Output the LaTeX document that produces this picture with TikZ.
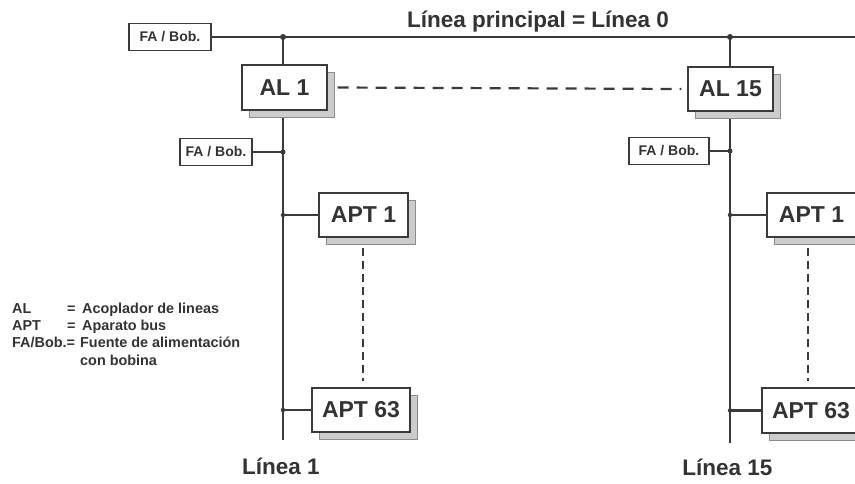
\documentclass[tikz,border=0pt]{standalone}
\usepackage{fontspec}
\setmainfont{Liberation Sans}
\usetikzlibrary{shadows,backgrounds}
\definecolor{ink}{HTML}{333333}
\definecolor{wirec}{HTML}{3A3A3A}
\begin{document}
\begin{tikzpicture}[x=1pt,y=-1pt,
  box/.style={draw=wirec,line width=1.4pt,fill=white,inner sep=0pt,text=ink,
    font=\bfseries\fontsize{23}{26}\selectfont,
    copy shadow={shadow xshift=7pt,shadow yshift=-7pt,fill=black!20,draw=black!45,line width=0.9pt}},
  fabox/.style={draw=wirec,line width=1.3pt,fill=white,inner sep=0pt,text=ink,
    font=\bfseries\fontsize{14}{16}\selectfont,minimum height=27pt},
  wire/.style={draw=wirec,line width=2.2pt},
  dashh/.style={draw=wirec,line width=2.2pt,dash pattern=on 11pt off 8pt},
  dashv/.style={draw=wirec,line width=2.4pt,dash pattern=on 8pt off 5pt},
  dot/.style={circle,fill=wirec,inner sep=0pt,minimum size=6pt},
  big/.style={text=ink,font=\bfseries\fontsize{22.5}{26}\selectfont,anchor=base,inner sep=0pt},
  leg/.style={text=ink,font=\bfseries\fontsize{14.4}{17}\selectfont,anchor=base west,inner sep=0pt}
]
\useasboundingbox (0,0) rectangle (855,483);
\clip (0,0) rectangle (855,483);

% coordinates
\coordinate (j1) at (283,37);
\coordinate (j2) at (730,37);
\coordinate (mainend) at (856,37);
\coordinate (l1end) at (283,440);
\coordinate (l15end) at (730,443);
\coordinate (dvl) at (363,0);
\coordinate (dvr) at (808,0);

% title
\node[big] (title) at (538,27) {Línea principal = Línea 0};

% power supplies
\node[fabox,minimum width=82pt] (fa0) at (170,37) {FA / Bob.};
\node[fabox,minimum width=72pt] (fa1) at (216,152) {FA / Bob.};
\node[fabox,minimum width=80pt] (fa2) at (669,151) {FA / Bob.};

% line couplers
\node[box,minimum width=85pt,minimum height=45pt] (al1) at (284.5,87.5) {AL 1};
\node[box,minimum width=85pt,minimum height=44pt] (al15) at (730.5,89) {AL 15};

% bus devices
\node[box,minimum width=89pt,minimum height=44pt] (apt1l) at (363.5,215) {APT 1};
\node[box,minimum width=98pt,minimum height=44pt] (apt63l) at (361,410) {APT 63};
\node[box,minimum width=89pt,minimum height=44pt] (apt1r) at (811.5,215) {APT 1};
\node[box,minimum width=98pt,minimum height=45pt] (apt63r) at (811,410.5) {APT 63};

% line labels
\node[big] (lin1) at (281,474) {Línea 1};
\node[big] (lin15) at (727.5,475) {Línea 15};

% legend
\node[leg] (lgal) at (12,313) {AL};
\node[leg] (lgaleq) at (67,313) {=};
\node[leg] (lgaltx) at (82,313) {Acoplador de lineas};
\node[leg] (lgapt) at (12,330) {APT};
\node[leg] (lgapteq) at (67,330) {=};
\node[leg] (lgapttx) at (82,330) {Aparato bus};
\node[leg] (lgfa) at (12,347) {FA/Bob.=};
\node[leg] (lgfatx) at (80,347) {Fuente de alimentación};
\node[leg] (lgfatx2) at (80,365) {con bobina};

% wiring
\begin{pgfonlayer}{background}
\draw[wire] (j1) -- (l1end);
\draw[wire] (j2) -- (l15end);
\end{pgfonlayer}
\draw[wire] (fa0.east) -- (mainend);
\draw[wire] (fa1.east) -- (fa1.east -| j1);
\draw[wire] (fa2.east) -- (fa2.east -| j2);
\draw[wire] (apt1l.west) -- (apt1l.west -| j1);
\draw[wire] (apt63l.west) -- (apt63l.west -| j1);
\draw[wire] (apt1r.west) -- (apt1r.west -| j2);
\draw[wire] (apt63r.west) -- (apt63r.west -| j2);

\node[dot] (dj1) at (j1) {};
\node[dot] (dj2) at (j2) {};
\node[dot,minimum size=5pt] (dfa1) at (fa1.east -| j1) {};
\node[dot,minimum size=5pt] (dfa2) at (fa2.east -| j2) {};
\node[dot,minimum size=4.5pt] (da1) at (apt1l.west -| j1) {};
\node[dot,minimum size=4.5pt] (da2) at (apt63l.west -| j1) {};
\node[dot,minimum size=4.5pt] (da3) at (apt1r.west -| j2) {};
\node[dot,minimum size=4.5pt] (da4) at (apt63r.west -| j2) {};

% dashed links
\draw[dashh] ([xshift=10pt]al1.east) -- ([xshift=-6pt]al15.west);
\draw[dashv] ([yshift=-10pt]apt1l.south -| dvl) -- ([yshift=6pt]apt63l.north -| dvl);
\draw[dashv] ([yshift=-10pt]apt1r.south -| dvr) -- ([yshift=6pt]apt63r.north -| dvr);
\end{tikzpicture}
\end{document}
